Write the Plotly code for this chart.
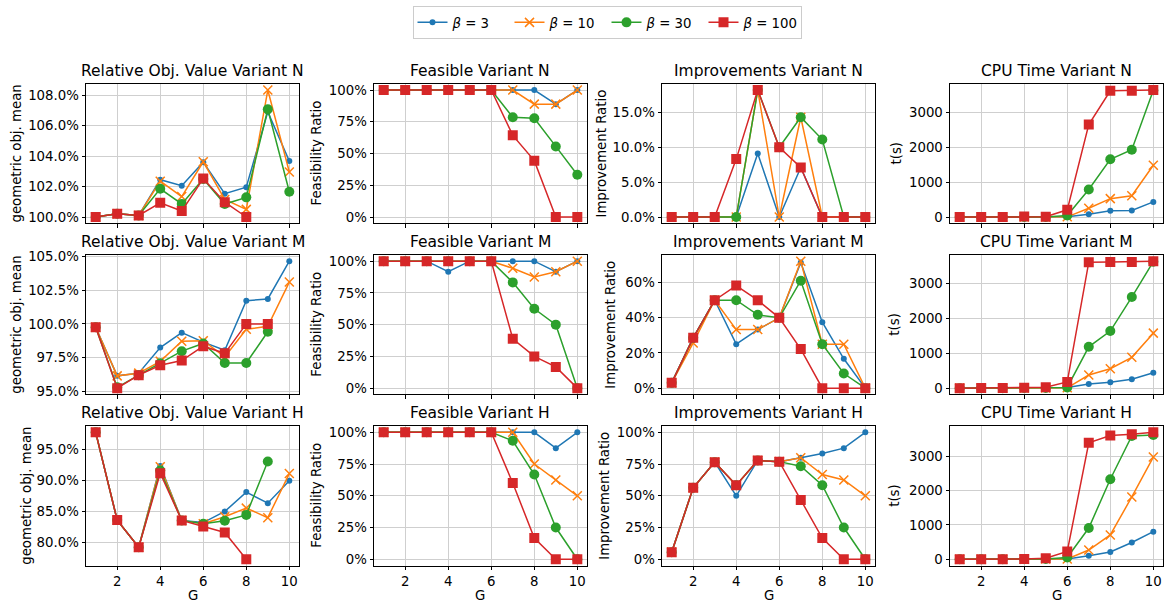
import plotly.graph_objects as go

G = [1, 2, 3, 4, 5, 6, 7, 8, 9, 10]
BETAS = [3, 10, 30, 100]
G_TICKS = [2, 4, 6, 8, 10]

# Relative objective value (geometric mean, %)
rel_N = [
    [100.0, 100.22, 100.1, 102.45, 102.05, 103.6, 101.53, 101.96, 106.9, 103.67],
    [100.0, 100.22, 100.1, 102.35, 101.34, 103.62, 101.15, 100.5, 108.33, 102.95],
    [100.0, 100.22, 100.1, 101.85, 100.86, 102.5, 100.85, 101.29, 107.07, 101.66],
    [100.0, 100.22, 100.1, 100.93, 100.39, 102.52, 100.97, 100.0, None, None],
]
rel_M = [
    [99.75, 96.15, 96.35, 98.25, 99.35, 98.65, 98.05, 101.72, 101.85, 104.65],
    [99.75, 96.15, 96.35, 97.23, 98.72, 98.75, 97.55, 99.6, 99.83, 103.1],
    [99.75, 95.3, 96.2, 97.08, 97.98, 98.55, 97.1, 97.1, 99.42, None],
    [99.75, 95.24, 96.2, 96.93, 97.28, 98.35, 97.82, 100.0, 100.0, None],
]
rel_H = [
    [97.8, 83.55, 79.15, 92.35, 83.5, 83.15, 84.95, 88.1, 86.3, 89.95],
    [97.8, 83.55, 79.15, 92.2, 83.5, 82.95, 84.1, 85.5, 83.95, 91.1],
    [97.8, 83.55, 79.15, 91.6, 83.5, 82.95, 83.45, 84.4, 93.05, None],
    [97.8, 83.55, 79.15, 91.15, 83.5, 82.5, 81.55, 77.2, None, None],
]
# Feasibility ratio (%)
feas_N = [
    [100, 100, 100, 100, 100, 100, 100, 100, 88.9, 100],
    [100, 100, 100, 100, 100, 100, 100, 88.9, 88.9, 100],
    [100, 100, 100, 100, 100, 100, 78.6, 77.8, 55.6, 33.3],
    [100, 100, 100, 100, 100, 100, 64.3, 44.4, 0, 0],
]
feas_M = [
    [100, 100, 100, 91.7, 100, 100, 100, 100, 91.7, 100],
    [100, 100, 100, 100, 100, 100, 94.4, 87.5, 91.7, 100],
    [100, 100, 100, 100, 100, 100, 83.3, 62.5, 50.0, 0],
    [100, 100, 100, 100, 100, 100, 38.9, 25.0, 16.7, 0],
]
feas_H = [
    [100, 100, 100, 100, 100, 100, 100, 100, 87.5, 100],
    [100, 100, 100, 100, 100, 100, 100, 75.0, 62.5, 50.0],
    [100, 100, 100, 100, 100, 100, 93.3, 66.7, 25.0, 0],
    [100, 100, 100, 100, 100, 100, 60.0, 16.7, 0, 0],
]
# Improvement ratio (%)
imp_N = [
    [0, 0, 0, 0, 9.1, 0, 7.1, 0, 0, 0],
    [0, 0, 0, 0, 18.2, 0, 14.3, 0, 0, 0],
    [0, 0, 0, 0, 18.2, 10.0, 14.3, 11.1, 0, 0],
    [0, 0, 0, 8.3, 18.2, 10.0, 7.1, 0, 0, 0],
]
imp_M = [
    [3.0, 28.6, 50, 25.0, 33.3, 40, 71.4, 37.5, 16.7, 0],
    [3.0, 25.7, 50, 33.3, 33.3, 40, 72.2, 25.0, 25.0, 0],
    [3.0, 28.6, 50, 50.0, 41.7, 40, 61.1, 25.0, 8.3, 0],
    [3.0, 28.6, 50, 58.3, 50.0, 40, 22.2, 0, 0, 0],
]
imp_H = [
    [5.6, 56.3, 76.5, 50.0, 77.8, 76.9, 80.0, 83.3, 87.5, 100],
    [5.6, 56.3, 76.5, 58.3, 77.8, 76.9, 80.0, 66.7, 62.5, 50],
    [5.6, 56.3, 76.5, 58.3, 77.8, 76.9, 73.3, 58.3, 25.0, 0],
    [5.6, 56.3, 76.5, 58.3, 77.8, 76.9, 46.7, 16.7, 0, 0],
]
# CPU time (s)
cpu_N = [
    [0, 0, 0, 1, 0, 10, 78, 178, 187, 431],
    [0, 0, 0, 2, 1, 5, 250, 525, 609, 1480],
    [0, 0, 0, 3, 2, 45, 785, 1650, 1922, 3625],
    [0, 1, 2, 15, 5, 205, 2645, 3610, 3612, 3630],
]
cpu_M = [
    [0, 0, 0, 1, 1, 15, 120, 168, 252, 440],
    [0, 0, 0, 2, 2, 10, 375, 553, 880, 1570],
    [0, 0, 0, 3, 5, 20, 1180, 1630, 2600, 3612],
    [0, 1, 2, 10, 25, 175, 3595, 3600, 3605, 3625],
]
cpu_H = [
    [0, 0, 0, 1, 3, 10, 105, 210, 487, 803],
    [0, 0, 0, 2, 5, 10, 268, 707, 1815, 2975],
    [0, 0, 0, 3, 10, 50, 910, 2330, 3590, 3620],
    [0, 1, 2, 10, 29, 229, 3390, 3602, 3640, 3697],
]

PANELS = [
    [("Relative Obj. Value Variant N", rel_N, 2, ".1f", "%", "geometric obj. mean"),
     ("Feasible Variant N", feas_N, 25, ".0f", "%", "Feasibility Ratio"),
     ("Improvements Variant N", imp_N, 5, ".1f", "%", "Improvement Ratio"),
     ("CPU Time Variant N", cpu_N, 1000, ".0f", "", "t(s)")],
    [("Relative Obj. Value Variant M", rel_M, 2.5, ".1f", "%", "geometric obj. mean"),
     ("Feasible Variant M", feas_M, 25, ".0f", "%", "Feasibility Ratio"),
     ("Improvements Variant M", imp_M, 20, ".0f", "%", "Improvement Ratio"),
     ("CPU Time Variant M", cpu_M, 1000, ".0f", "", "t(s)")],
    [("Relative Obj. Value Variant H", rel_H, 5, ".1f", "%", "geometric obj. mean"),
     ("Feasible Variant H", feas_H, 25, ".0f", "%", "Feasibility Ratio"),
     ("Improvements Variant H", imp_H, 25, ".0f", "%", "Improvement Ratio"),
     ("CPU Time Variant H", cpu_H, 1000, ".0f", "", "t(s)")],
]

COLORS = ["#1f77b4", "#ff7f0e", "#2ca02c", "#d62728"]
SYMBOLS = ["circle", "x-thin-open", "circle", "square"]
SIZES = [6, 9, 10, 10]

W, H = 1165, 606
COL_PX = [(86, 299), (374, 587), (662, 875), (950, 1163)]
ROW_PX = [(79, 221), (253, 395), (427, 569)]
YLAB_X = [[17, 317, 602, 897], [17, 317, 611, 895], [27, 317, 605, 895]]
FONT = "DejaVu Sans"
TICK_FS = 13.3
TITLE_FS = 15.5

fig = go.Figure()
annotations = []
layout = {}
for r in range(3):
    for c in range(4):
        k = r * 4 + c + 1
        title, data, dtick, fmt, suffix, ylab = PANELS[r][c]
        xa = "x" if k == 1 else f"x{k}"
        ya = "y" if k == 1 else f"y{k}"
        for i, beta in enumerate(BETAS):
            mk = dict(color=COLORS[i], size=SIZES[i], symbol=SYMBOLS[i])
            if SYMBOLS[i] == "x-thin-open":
                mk["line"] = dict(color=COLORS[i], width=1.5)
            fig.add_trace(go.Scatter(
                x=G, y=data[i], mode="lines+markers", xaxis=xa, yaxis=ya,
                name=f"<i>β</i> = {beta}", legendgroup=str(beta), showlegend=(k == 1),
                line=dict(color=COLORS[i], width=1.5), marker=mk,
                connectgaps=False))
        vals = [v for s in data for v in s if v is not None]
        lo, hi = min(vals), max(vals)
        pad = (hi - lo) * 0.05
        x0, x1 = COL_PX[c]
        y0, y1 = ROW_PX[r]
        layout["xaxis" if k == 1 else f"xaxis{k}"] = dict(
            domain=[x0 / W, x1 / W], anchor=ya, range=[0.55, 10.45],
            tickvals=G_TICKS, showticklabels=(r == 2), ticks="outside", ticklen=3.5,
            tickcolor="black", showline=True, mirror=True, linecolor="black", linewidth=1,
            showgrid=True, gridcolor="#cfcfcf", gridwidth=1, zeroline=False,
            tickfont=dict(family=FONT, size=TICK_FS, color="black"))
        layout["yaxis" if k == 1 else f"yaxis{k}"] = dict(
            domain=[1 - y1 / H, 1 - y0 / H], anchor=xa, range=[lo - pad, hi + pad],
            tick0=0, dtick=dtick, tickformat=fmt, ticksuffix=suffix,
            ticks="outside", ticklen=3.5, tickcolor="black",
            showline=True, mirror=True, linecolor="black", linewidth=1,
            showgrid=True, gridcolor="#cfcfcf", gridwidth=1, zeroline=False,
            tickfont=dict(family=FONT, size=TICK_FS, color="black"))
        annotations.append(dict(
            text=title, x=(x0 + x1) / 2 / W, y=1 - (y0 - 13) / H, xref="paper", yref="paper",
            xanchor="center", yanchor="middle", showarrow=False,
            font=dict(family=FONT, size=TITLE_FS, color="black")))
        annotations.append(dict(
            text=ylab, x=YLAB_X[r][c] / W, y=1 - (y0 + y1) / 2 / H, xref="paper", yref="paper",
            xanchor="center", yanchor="middle", showarrow=False, textangle=-90,
            font=dict(family=FONT, size=TICK_FS, color="black")))
        if r == 2:
            annotations.append(dict(
                text="G", x=(x0 + x1) / 2 / W, y=1 - 599 / H, xref="paper", yref="paper",
                xanchor="center", yanchor="middle", showarrow=False,
                font=dict(family=FONT, size=TICK_FS, color="black")))

fig.update_layout(
    width=W, height=H, margin=dict(l=0, r=0, t=0, b=0),
    plot_bgcolor="white", paper_bgcolor="white",
    font=dict(family=FONT, size=TICK_FS, color="black"),
    annotations=annotations,
    legend=dict(orientation="h", x=607 / W, xanchor="center", y=1 - 17 / H, yanchor="middle",
                bordercolor="#cccccc", borderwidth=1, font=dict(family=FONT, size=TICK_FS),
                itemwidth=30, tracegroupgap=0, entrywidth=52, entrywidthmode="pixels"),
    **layout)

fig.write_html("out.html")
